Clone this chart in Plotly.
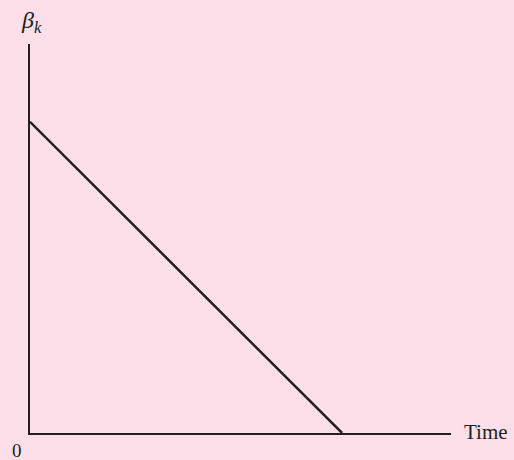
import plotly.graph_objects as go

# Data
time = [0, 1]
beta = [1, 0]
x_range = [0, 1.349]
y_range = [0, 1.25]

axis_color = "#231f20"
bg = "#fcdfe8"

fig = go.Figure()
fig.add_trace(go.Scatter(x=time, y=beta, mode="lines",
                         line=dict(color=axis_color, width=2.5),
                         hoverinfo="skip", showlegend=False))

fig.update_layout(
    width=514, height=460,
    margin=dict(l=30, r=63, t=44, b=27),
    paper_bgcolor=bg, plot_bgcolor=bg,
    font=dict(family="Liberation Serif", color=axis_color),
    xaxis=dict(range=x_range, showgrid=False, zeroline=False, showticklabels=False,
               ticks="", showline=True, linecolor=axis_color, linewidth=1.5, fixedrange=True),
    yaxis=dict(range=y_range, showgrid=False, zeroline=False, showticklabels=False,
               ticks="", showline=True, linecolor=axis_color, linewidth=1.5, fixedrange=True),
)

fig.add_annotation(text="Time", xref="paper", yref="paper", x=1, y=0,
                   xanchor="left", yanchor="middle", xshift=11, yshift=1,
                   showarrow=False, font=dict(size=21, family="Liberation Serif", color=axis_color))
fig.add_annotation(text="0", xref="paper", yref="paper", x=0, y=0,
                   xanchor="center", yanchor="middle", xshift=-13, yshift=-17,
                   showarrow=False, font=dict(size=19, family="Liberation Serif", color=axis_color))
fig.add_annotation(text="<i>β<sub>k</sub></i>", xref="paper", yref="paper", x=0, y=1,
                   xanchor="center", yanchor="middle", xshift=1, yshift=22,
                   showarrow=False, font=dict(size=24, family="Liberation Serif", color=axis_color))

fig.write_html("out.html", config={"displayModeBar": False},
               post_script="document.body.style.margin='0';document.body.style.background='%s';" % bg)
